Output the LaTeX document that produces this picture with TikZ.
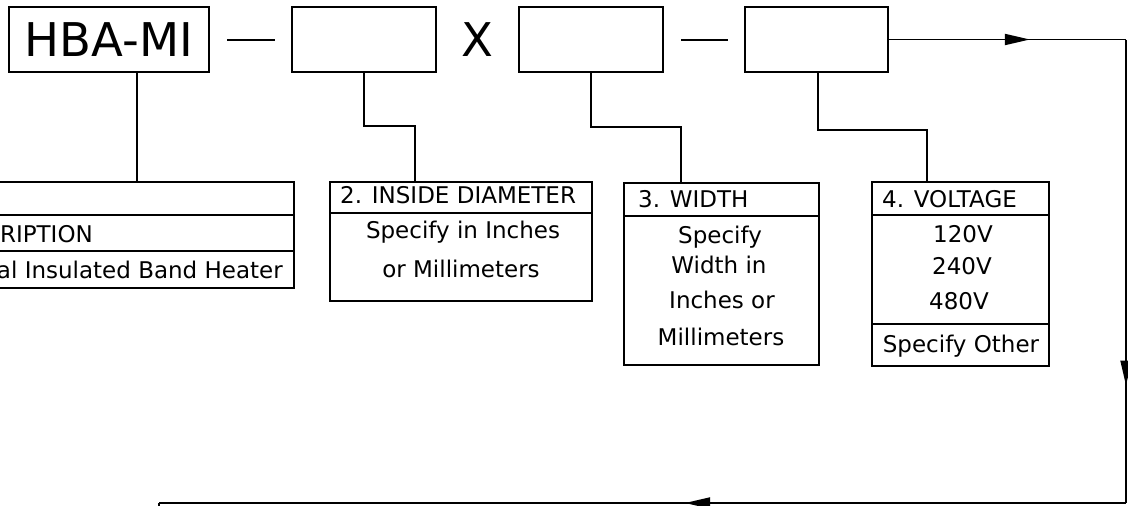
\documentclass[tikz,border=0pt]{standalone}
\usepackage{fontspec}
\setmainfont{DejaVu Sans}
\usetikzlibrary{arrows.meta,decorations.markings}
\tikzset{
  box/.style={draw, line width=1.8pt, rectangle, inner sep=0pt},
  divider/.style={line width=1.8pt},
  conn/.style={draw, line width=1.8pt},
  txt/.style={inner sep=0pt, font=\fontsize{23}{23}\selectfont},
  bigtxt/.style={inner sep=0pt, font=\fontsize{46.5}{46.5}\selectfont},
  midarrow/.style={postaction={decorate}, decoration={markings, mark=at position #1 with {\arrow{Triangle[length=25pt,width=11pt]}}}}
}
\begin{document}
\begin{tikzpicture}[x=1pt,y=-1pt]
\useasboundingbox (0,0) rectangle (1128,506);
% top row boxes
\node[box, minimum width=200pt, minimum height=65pt, font=\fontsize{46.5}{46.5}\selectfont] (hba) at (109,39.5) {HBA-MI};
\node[box, minimum width=144pt, minimum height=65pt] (b2) at (364,39.5) {};
\node[bigtxt] (x) at (477.5,39.5) {X};
\node[box, minimum width=144pt, minimum height=65pt] (b3) at (591,39.5) {};
\node[box, minimum width=143pt, minimum height=65pt] (b4) at (816.5,39.5) {};
% dashes
\coordinate (da1) at (227,40); \coordinate (da2) at (275,40);
\coordinate (db1) at (681,40); \coordinate (db2) at (728,40);
\draw[conn] (da1) -- (da2);
\draw[conn] (db1) -- (db2);
% description boxes
\node[box, minimum width=444pt, minimum height=106pt] (d1) at (72,235) {};
\node[box, minimum width=262pt, minimum height=119pt] (d2) at (461,241.5) {};
\node[box, minimum width=195pt, minimum height=182pt] (d3) at (721.5,274) {};
\node[box, minimum width=177pt, minimum height=184pt] (d4) at (960.5,274) {};
% dividers
\draw[divider] (-150,215) -- (d1.east |- 0,215);
\draw[divider] (-150,251) -- (d1.east |- 0,251);
\draw[divider] (d2.west |- 0,213) -- (d2.east |- 0,213);
\draw[divider] (d3.west |- 0,216) -- (d3.east |- 0,216);
\draw[divider] (d4.west |- 0,215) -- (d4.east |- 0,215);
\draw[divider] (d4.west |- 0,324) -- (d4.east |- 0,324);
% texts
\node[txt, anchor=base east] (t1a) at (93,242) {RIPTION};
\node[txt, anchor=base east] (t1b) at (283,278) {al Insulated Band Heater};
\node[txt, anchor=base west] (t2a) at (340,203) {2. INSIDE DIAMETER};
\node[txt, anchor=base] (t2b) at (463,238) {Specify in Inches};
\node[txt, anchor=base] (t2c) at (461,277) {or Millimeters};
\node[txt, anchor=base west] (t3a) at (638,207) {3. WIDTH};
\node[txt, anchor=base] (t3b) at (720,243) {Specify};
\node[txt, anchor=base] (t3c) at (719,273) {Width in};
\node[txt, anchor=base] (t3d) at (722,308) {Inches or};
\node[txt, anchor=base] (t3e) at (721,345) {Millimeters};
\node[txt, anchor=base west] (t4a) at (882,207) {4. VOLTAGE};
\node[txt, anchor=base] (t4b) at (963,242) {120V};
\node[txt, anchor=base] (t4c) at (962,274) {240V};
\node[txt, anchor=base] (t4d) at (959,309) {480V};
\node[txt, anchor=base] (t4e) at (961,352) {Specify Other};
% connectors to description boxes
\coordinate (k1) at (137,72);
\coordinate (k1b) at (137,182);
\coordinate (k2) at (415,182);
\coordinate (k3) at (681,183);
\coordinate (k4) at (927,182);
\draw[conn] (k1) -- (k1b);
\draw[conn] (b2.south) |- (415,126) -- (k2);
\draw[conn] (b3.south) |- (681,127) -- (k3);
\draw[conn] (818,72) |- (927,130) -- (k4);
% flow arrows
\coordinate (c1) at (1126,39.5);
\coordinate (c2) at (1126,503);
\coordinate (c3) at (159,503);
\coordinate (c4) at (159,520);
\draw[conn, midarrow=141pt] (b4.east) -- (c1);
\draw[conn, midarrow=346pt] (c1) -- (c2);
\draw[conn, midarrow=441pt] (c2) -- (c3);
\draw[conn] (c3) -- (c4);
\end{tikzpicture}
\end{document}
